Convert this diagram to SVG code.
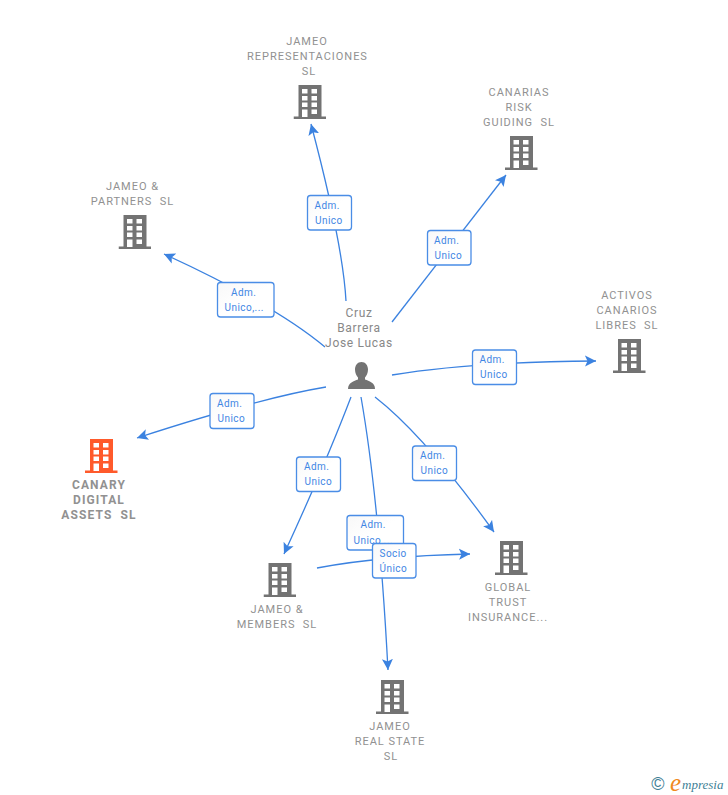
<svg xmlns="http://www.w3.org/2000/svg" width="728" height="795" viewBox="0 0 728 795">
<style>
text{font-family:Roboto,"Liberation Sans",Arial,sans-serif;white-space:pre}
.n{font-size:11px;fill:#919191;text-anchor:middle;letter-spacing:.98px}
.nb{font-size:12px;font-weight:700;fill:#919191;text-anchor:middle;letter-spacing:1.1px}
.p{font-size:12px;fill:#888;text-anchor:middle;letter-spacing:.7px}
.l{font-size:10px;fill:#3f86e4;letter-spacing:.45px}
.c{fill:none;stroke:#3b82e0;stroke-width:1.3;marker-end:url(#a)}
.b{fill:url(#g);stroke:#4a8de6;stroke-width:1.3}
.grey{fill:#737373}.red{fill:#ff5a2b}
</style>
<defs>
<linearGradient id="g" x1="0" y1="0" x2="1" y2="1"><stop offset="0" stop-color="#f8f8f8"/><stop offset=".5" stop-color="#fff"/></linearGradient>
<marker id="a" markerUnits="userSpaceOnUse" markerWidth="14" markerHeight="14" refX="11" refY="6" orient="auto"><path d="M11 6L0 0.5L2.500 6L0 11.500Z" fill="#3b82e0"/></marker>
<symbol id="bld" width="33" height="34" viewBox="0 0 33 34"><path fill-rule="evenodd" d="M5 0H28V31.500H32.500V34H0V31.500H5ZM8.500 4V8.500H14V4ZM18 4V8.500H23.500V4ZM8.500 11V15.500H14V11ZM18 11V15.500H23.500V11ZM8.500 17.500V22H14V17.500ZM18 17.500V22H23.500V17.500ZM8.500 24.500V32H14V24.500ZM18 24.500V29H23.500V24.500Z"/></symbol>
</defs>
<g id="connectors">
<path class="c" d="M346 301Q343 245 311 124"/>
<path class="c" d="M325 347Q275 305 164 254"/>
<path class="c" d="M392 322L506 175"/>
<path class="c" d="M392 375Q470 362 596 361"/>
<path class="c" d="M326 387Q260 398 137 438"/>
<path class="c" d="M351 397Q325 465 284 554"/>
<path class="c" d="M361 397Q379 500 388 670"/>
<path class="c" d="M375 397Q425 436 494 532"/>
<path class="c" d="M317 568Q380 556 470 554"/>
<g id="label-representaciones"><rect class="b" x="307.500" y="195.500" width="44" height="34.500" rx="3"/><text class="l" x="314.500" y="209">Adm.</text><text class="l" x="315" y="224">Unico</text></g>
<g id="label-partners"><rect class="b" x="217.500" y="282.500" width="56.500" height="34.500" rx="3"/><text class="l" x="231" y="296">Adm.</text><text class="l" x="224.500" y="311">Unico,...</text></g>
<g id="label-canarias"><rect class="b" x="427.500" y="230.500" width="43.500" height="34.500" rx="3"/><text class="l" x="434" y="244">Adm.</text><text class="l" x="434.500" y="259">Unico</text></g>
<g id="label-activos"><rect class="b" x="472.500" y="350" width="44" height="34.500" rx="3"/><text class="l" x="479.500" y="363">Adm.</text><text class="l" x="480" y="378">Unico</text></g>
<g id="label-canary"><rect class="b" x="210" y="393.500" width="44" height="35" rx="3"/><text class="l" x="217" y="407">Adm.</text><text class="l" x="217.500" y="422">Unico</text></g>
<g id="label-members"><rect class="b" x="296.500" y="457" width="44" height="34.500" rx="3"/><text class="l" x="304" y="470">Adm.</text><text class="l" x="304.500" y="485">Unico</text></g>
<g id="label-global"><rect class="b" x="412.500" y="446" width="44" height="34.500" rx="3"/><text class="l" x="420" y="459">Adm.</text><text class="l" x="420.500" y="474">Unico</text></g>
<g id="label-realstate"><rect class="b" x="347" y="515.500" width="56.500" height="34.500" rx="3"/><text class="l" x="360.500" y="528">Adm.</text><text class="l" x="353.500" y="544">Unico,...</text></g>
<g id="label-socio"><rect class="b" x="372.500" y="543.500" width="43.500" height="34.500" rx="3"/><text class="l" x="379.500" y="557">Socio</text><text class="l" x="379.500" y="572">Único</text></g>
</g>
<g id="person"><path class="grey" d="M361.500 362C365.500 362 368 365.500 368 369.500C368 373 366.500 376 365 377.500V379.500C369 381 375 382.500 375 389H348C348 382.500 354 381 358 379.500V377.500C356.500 376 355 373 355 369.500C355 365.500 357.500 362 361.500 362Z"/><text class="p" x="359" y="317">Cruz</text><text class="p" x="359" y="332">Barrera</text><text class="p" x="359" y="347">Jose Lucas</text></g>
<g id="node-representaciones"><use href="#bld" class="grey" x="293.500" y="85"/><text class="n" x="307" y="45">JAMEO</text><text class="n" x="307.500" y="60">REPRESENTACIONES</text><text class="n" x="309" y="75">SL</text></g>
<g id="node-partners"><use href="#bld" class="grey" x="118.500" y="215"/><text class="n" x="132.500" y="190">JAMEO &amp;</text><text class="n" x="132.500" y="205">PARTNERS  SL</text></g>
<g id="node-canarias"><use href="#bld" class="grey" x="505" y="136"/><text class="n" x="519" y="96">CANARIAS</text><text class="n" x="519" y="111">RISK</text><text class="n" x="519" y="126">GUIDING  SL</text></g>
<g id="node-activos"><use href="#bld" class="grey" x="613" y="339"/><text class="n" x="627" y="299">ACTIVOS</text><text class="n" x="627" y="314">CANARIOS</text><text class="n" x="627" y="329">LIBRES  SL</text></g>
<g id="node-canary"><use href="#bld" class="red" x="85" y="439"/><text class="nb" x="99" y="489">CANARY</text><text class="nb" x="99" y="504">DIGITAL</text><text class="nb" x="99" y="519">ASSETS  SL</text></g>
<g id="node-members"><use href="#bld" class="grey" x="263.500" y="563"/><text class="n" x="277" y="613">JAMEO &amp;</text><text class="n" x="277" y="628">MEMBERS  SL</text></g>
<g id="node-global"><use href="#bld" class="grey" x="495" y="541"/><text class="n" x="508" y="591">GLOBAL</text><text class="n" x="508" y="606">TRUST</text><text class="n" x="508" y="621">INSURANCE...</text></g>
<g id="node-realstate"><use href="#bld" class="grey" x="376" y="680"/><text class="n" x="390" y="730">JAMEO</text><text class="n" x="390" y="745">REAL STATE</text><text class="n" x="391" y="760">SL</text></g>
<g id="logo"><text x="658" y="790" font-size="18" fill="#3f7f96" text-anchor="middle" style="font-family:'Liberation Sans',sans-serif">©</text><text x="670" y="791" font-size="25" fill="#f08a1e" font-style="italic" style="font-family:'Liberation Serif',serif">e</text><text x="682" y="789" font-size="13" fill="#3f7f96" font-style="italic" style="font-family:'Liberation Serif',serif">mpresia</text></g>
</svg>
